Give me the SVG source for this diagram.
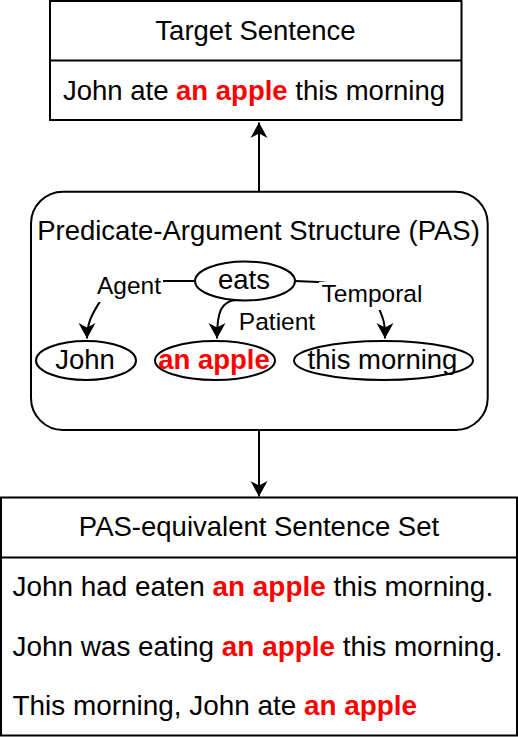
<svg xmlns="http://www.w3.org/2000/svg" width="518" height="737" viewBox="0 0 518 737">
<style>
.box{fill:#fff;stroke:#000;stroke-width:2}
.edge{fill:none;stroke:#000;stroke-width:2}
.t{font-family:"Liberation Sans",Arial,sans-serif;font-size:27.5px;fill:#000}
.s{font-size:27.9px}
.lbl{font-family:"Liberation Sans",Arial,sans-serif;font-size:24.5px;fill:#000}
.r{fill:#ff0000;font-weight:bold}
.bg{fill:#fff;stroke:none}
</style>
<defs>
<marker id="arr" viewBox="-16 -9 17 18" refX="0" refY="0" markerWidth="17" markerHeight="18" markerUnits="userSpaceOnUse" orient="auto">
<path d="M0,0 L-15.5,-8.5 L-11,0 L-15.5,8.5 Z" fill="#000"/>
</marker>
</defs>
<rect width="518" height="737" fill="#fff"/>
<g id="connectors">
<path class="edge" d="M259,191.7 L259,122.5" marker-end="url(#arr)"/>
<path class="edge" d="M259,430 L259,496.5" marker-end="url(#arr)"/>
<path class="edge" d="M195,281 L145,281 C118,281 104,292 99,303 C93,313 87,322 87,338.5" marker-end="url(#arr)"/>
<path class="edge" d="M235,300 C222,302 217,310 217,338.5" marker-end="url(#arr)"/>
<path class="edge" d="M295,281 L318,282 C360,285 377,298 380,311 C383,318 385,322 385,338.5" marker-end="url(#arr)"/>
<rect class="bg" x="95" y="271" width="68" height="31"/>
<text class="lbl" x="129" y="294" text-anchor="middle">Agent</text>
<rect class="bg" x="319" y="282" width="106" height="28"/>
<text class="lbl" x="372" y="301.5" text-anchor="middle">Temporal</text>
<text class="lbl" x="277" y="330" text-anchor="middle">Patient</text>
</g>
<g id="target">
<rect class="box" x="50" y="1" width="411.5" height="119"/>
<line x1="50" y1="60.5" x2="461.5" y2="60.5" stroke="#000" stroke-width="2"/>
<text class="t" x="255.5" y="40" text-anchor="middle">Target Sentence</text>
<text class="t" x="254" y="99.5" text-anchor="middle">John ate <tspan class="r">an apple</tspan> this morning</text>
</g>
<g id="pas">
<rect class="edge" x="31" y="191.7" width="456.7" height="238.3" rx="32" ry="32"/>
<text class="t" x="258.5" y="240" text-anchor="middle">Predicate-Argument Structure (PAS)</text>
</g>
<g id="eats">
<ellipse class="box" cx="245" cy="281" rx="50" ry="19.5"/>
<text class="t" x="244" y="288.5" text-anchor="middle">eats</text>
</g>
<g id="john">
<ellipse class="box" cx="86" cy="360.5" rx="50" ry="19.5"/>
<text class="t" x="85" y="368.5" text-anchor="middle">John</text>
</g>
<g id="apple">
<ellipse class="box" cx="215" cy="360.5" rx="60" ry="19.5"/>
<text class="t r" x="214" y="368.5" text-anchor="middle">an apple</text>
</g>
<g id="morning">
<ellipse class="box" cx="383.5" cy="360.5" rx="89.5" ry="19.5"/>
<text class="t" x="382.5" y="368.5" text-anchor="middle">this morning</text>
</g>
<g id="set">
<rect class="box" x="1" y="497.5" width="516" height="238"/>
<line x1="1" y1="557.5" x2="517" y2="557.5" stroke="#000" stroke-width="2"/>
<text class="t" x="259" y="536" text-anchor="middle">PAS-equivalent Sentence Set</text>
<text class="t s" x="12.5" y="596">John had eaten <tspan class="r">an apple</tspan> this morning.</text>
<text class="t s" x="12.5" y="655.5">John was eating <tspan class="r">an apple</tspan> this morning.</text>
<text class="t s" x="12.5" y="715">This morning, John ate <tspan class="r">an apple</tspan></text>
</g>
</svg>
